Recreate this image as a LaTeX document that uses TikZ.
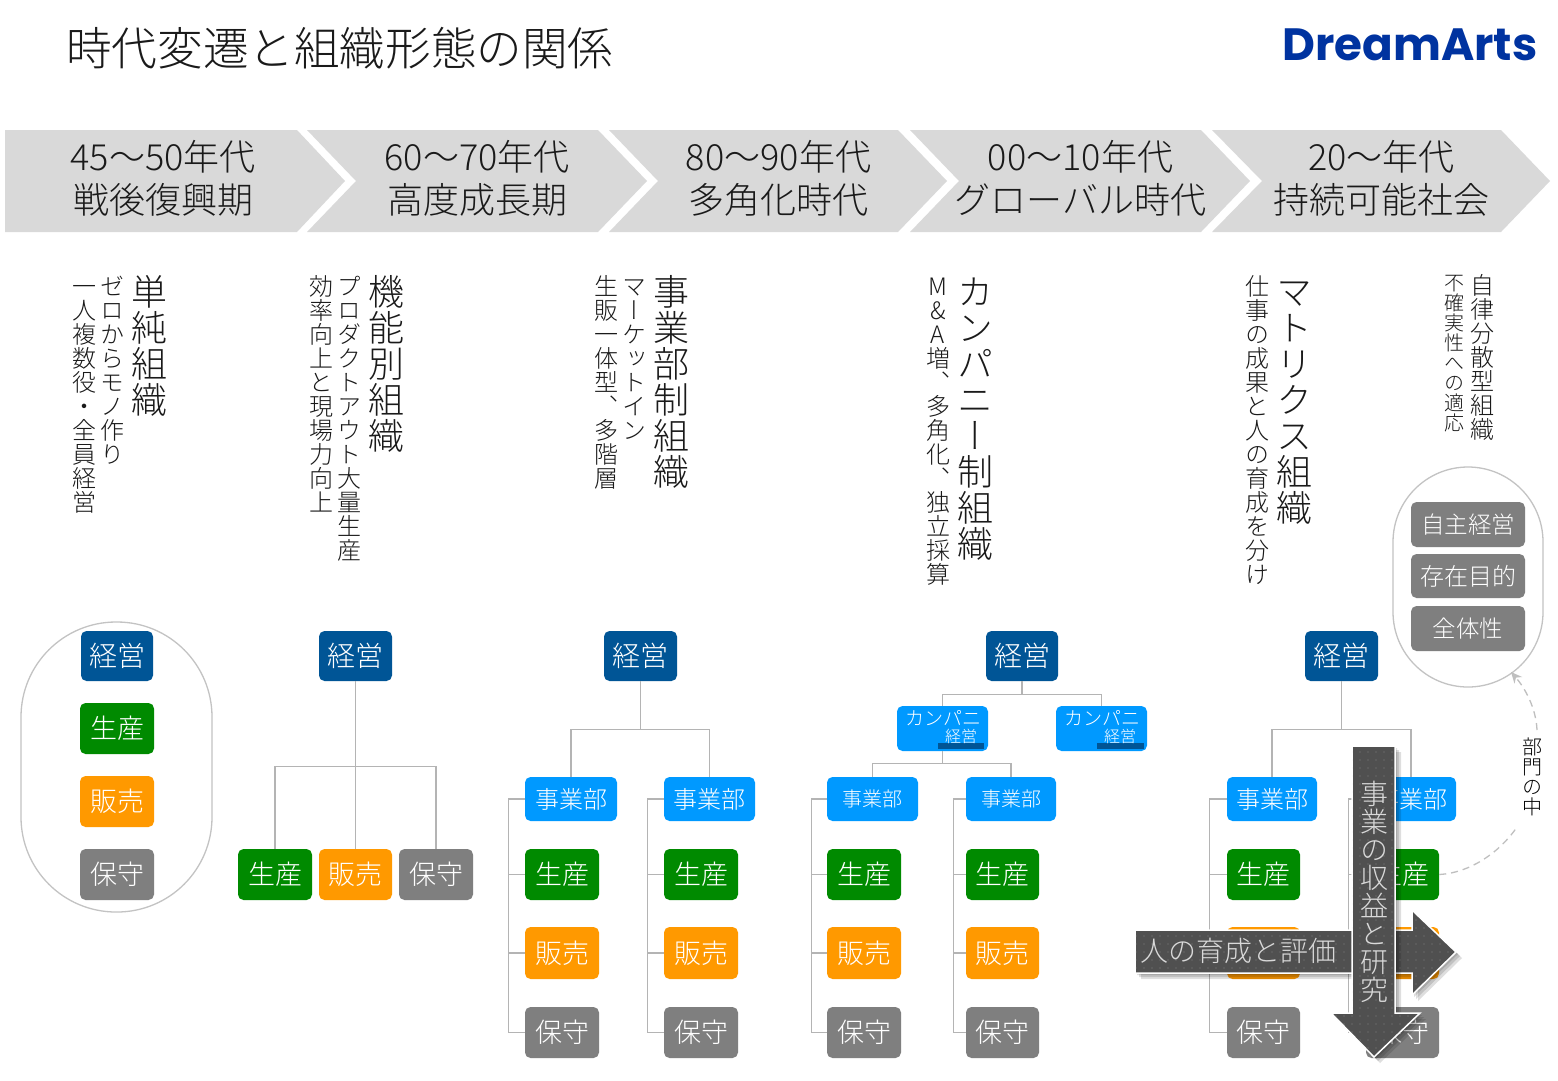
\documentclass[tikz,border=0pt]{standalone}
\usepackage{fontspec}
\usepackage{graphicx}
\usetikzlibrary{patterns.meta,arrows.meta}
\setmainfont{Noto Sans CJK JP Light}
\newfontfamily\vfont[RawFeature={+vert}]{Noto Sans CJK JP Light}
\newfontfamily\logofont{Poppins}
\definecolor{cDark}{HTML}{005596}
\definecolor{cBlue}{HTML}{0099FF}
\definecolor{cGreen}{HTML}{008A00}
\definecolor{cOrange}{HTML}{FF9900}
\definecolor{cGray}{HTML}{7F7F7F}
\definecolor{cBand}{HTML}{D9D9D9}
\definecolor{cLine}{HTML}{B4B4B4}
\definecolor{cArrow}{HTML}{505050}
\definecolor{cInk}{HTML}{1A1A1A}
\definecolor{cLogo}{HTML}{0033A0}
\XeTeXlinebreaklocale "ja"
\newcommand\cjkstrut{\rule[-.12em]{0pt}{1em}}
\makeatletter
\newcommand\vstack[2]{{\fontsize{#1}{#1}\vfont
  \vbox{\baselineskip=#1pt\lineskiplimit=-1000pt\lineskip=0pt
  \@tfor\vch:=#2\do{\hbox to #1pt{\hss\cjkstrut\vch\hss}}}}}
\makeatother
% box given by its corners: name, style, x1, y1, x2, y2, font size, text
\newcommand\bx[8]{\node[unit,#2,minimum width={(#5-#3)*1pt},minimum height={(#6-#4)*1pt},
  font=\fontsize{#7}{#7}\selectfont] (#1) at ({(#3+#5)/2},{(#4+#6)/2}) {\cjkstrut #8};}
% vertical text: name, colour, centre x, top y, size, text
\newcommand\vt[6]{\node[vlabel,text=#2] (#1) at (#3,#4) {\vstack{#5}{#6}};}
\newcommand\hdr[6]{\draw[band] (#1,130) -- (#2,130) -- ({#2+49},181) -- (#2,232) -- (#1,232) #3 -- cycle;
  \node[hdrtext] (#4) at ({(#1+#2)/2+#5},178) {#6};}
\def\hArrowPath{(1135,930) -- (1412,930) -- (1412,910) -- (1456,952) -- (1412,995) -- (1412,973) -- (1135,973) -- cycle}
\def\vArrowPath{(1352,746) -- (1395,746) -- (1395,1013) -- (1420,1013) -- (1374,1057) -- (1331,1013) -- (1352,1013) -- cycle}
\tikzset{
  unit/.style={rounded corners=5.5pt,inner sep=0pt,text=white,align=center},
  dark/.style={fill=cDark},
  blue/.style={fill=cBlue},
  green/.style={fill=cGreen},
  orange/.style={fill=cOrange},
  gray/.style={fill=cGray},
  band/.style={fill=cBand,draw=none},
  hdrtext/.style={align=center,inner sep=0pt,text=cInk,font=\fontsize{36}{43}\selectfont},
  vlabel/.style={anchor=north,inner sep=0pt},
  conn/.style={draw=cLine,line width=1.2pt},
  pill/.style={draw=cLine!80,line width=1.3pt,fill=none},
  bigarrow/.style={fill=cArrow,draw=white,line width=1.5pt,line join=miter,
    postaction={pattern={Dots[distance=8pt,radius=.35pt]},pattern color=cBand}},
  shade/.style={fill=black,opacity=.13,draw=none},
  dashconn/.style={draw=cLine!85,line width=1.3pt,dash pattern=on 7pt off 5pt},
}
\begin{document}
\begin{tikzpicture}[x=1pt,y=-1pt]
\useasboundingbox (0,0) rectangle (1558,1080);
\fill[white] (0,0) rectangle (1558,1080);
% title and logo
\node[anchor=west,inner sep=0pt,text=cInk,font=\fontsize{45.6}{46}\selectfont] (title) at (66,48) {\cjkstrut 時代変遷と組織形態の関係};
\node[anchor=center,inner sep=0pt,text=cLogo] (logo) at (1410,45) {\resizebox{255pt}{!}{\fontsize{50}{50}\logofont\bfseries DreamArts}};
% header band
\draw[band] (5,130) -- (297,130) -- (345,181) -- (297,232) -- (5,232) -- cycle;
\node[hdrtext] (h1) at (163,178) {45〜50年代\\戦後復興期};
\hdr{307}{598}{-- (356,181)}{h2}{24.5}{60〜70年代\\高度成長期}
\hdr{609}{898}{-- (658,181)}{h3}{25}{80〜90年代\\多角化時代}
\hdr{910}{1201}{-- (959,181)}{h4}{25}{00〜10年代\\グローバル時代}
\hdr{1212}{1501}{-- (1262,181)}{h5}{25}{20〜年代\\持続可能社会}
% vertical labels
\vt{t1a}{cInk}{149}{274}{36}{単純組織}
\vt{t1b}{cInk}{112}{274}{24}{ゼロからモノ作り}
\vt{t1c}{cInk}{84}{274}{24}{一人複数役・全員経営}
\vt{t2a}{cInk}{386}{274}{36}{機能別組織}
\vt{t2b}{cInk}{349}{274}{24}{プロダクトアウト大量生産}
\vt{t2c}{cInk}{321}{274}{24}{効率向上と現場力向上}
\vt{t3a}{cInk}{671}{274}{36}{事業部制組織}
\vt{t3b}{cInk}{634}{274}{24}{マーケットイン}
\vt{t3c}{cInk}{606}{274}{24}{生販一体型、多階層}
\vt{t4a}{cInk}{975}{274}{36}{カンパニー制組織}
\vt{t4b}{cInk}{938}{274}{24}{M{\&}A増、多角化、独立採算}
\vt{t5a}{cInk}{1294}{274}{36}{マトリクス組織}
\vt{t5b}{cInk}{1257}{274}{24}{仕事の成果と人の育成を分け}
\vt{t6a}{cInk}{1482}{273}{24}{自律分散型組織}
\vt{t6b}{cInk}{1454}{273}{20}{不確実性への適応}
% column 1
\draw[pill,rounded corners=95pt] (21,622) rectangle (212,912);
\bx{a1}{dark}{81}{631}{153}{681}{28}{経営}
\bx{a2}{green}{80}{703}{154}{754}{27}{生産}
\bx{a3}{orange}{80}{776}{154}{827}{27}{販売}
\bx{a4}{gray}{80}{849}{154}{900}{27}{保守}
% column 2
\bx{b1}{dark}{319}{631}{392}{681}{28}{経営}
\bx{b2}{green}{238}{849}{312}{900}{27}{生産}
\bx{b3}{orange}{319}{849}{392}{900}{27}{販売}
\bx{b4}{gray}{399}{849}{473}{900}{27}{保守}
\draw[conn] (b1.south) -- (b3.north);
\draw[conn] (b1.south) -- ++(0,85) -| (b2.north);
\draw[conn] (b1.south) -- ++(0,85) -| (b4.north);
% column 3
\bx{c0}{dark}{604}{631}{677}{681}{28}{経営}
\bx{c1}{blue}{525}{777}{617}{821}{24}{事業部}
\bx{c2}{green}{525}{849}{599}{900}{27}{生産}
\bx{c3}{orange}{525}{927}{599}{979}{27}{販売}
\bx{c4}{gray}{525}{1007}{599}{1058}{27}{保守}
\bx{d1}{blue}{664}{777}{755}{821}{24}{事業部}
\bx{d2}{green}{664}{849}{738}{900}{27}{生産}
\bx{d3}{orange}{664}{927}{738}{979}{27}{販売}
\bx{d4}{gray}{664}{1007}{738}{1058}{27}{保守}
\draw[conn] (c0.south) -- ++(0,48) -| (c1.north);
\draw[conn] (c0.south) -- ++(0,48) -| (d1.north);
\foreach \n in {c2,c3,c4} \draw[conn] (c1.west) -- ++(-16,0) |- (\n.west);
\foreach \n in {d2,d3,d4} \draw[conn] (d1.west) -- ++(-16,0) |- (\n.west);
% column 4
\bx{e0}{dark}{986}{631}{1058}{681}{28}{経営}
\node[unit,blue,minimum width=91pt,minimum height=45pt] (co1) at (942.5,728.5) {};
\node[unit,blue,minimum width=91pt,minimum height=45pt] (co2) at (1101.5,728.5) {};
\fill[cDark] (938,743) rectangle (984,749);
\fill[cDark] (1097,743) rectangle (1144,749);
\node[inner sep=0pt,text=white,font=\fontsize{19}{19}\selectfont] (co1a) at (943,718) {\cjkstrut カンパニ};
\node[inner sep=0pt,text=white,font=\fontsize{16}{16}\selectfont] (co1b) at (961,736) {\cjkstrut 経営};
\node[inner sep=0pt,text=white,font=\fontsize{19}{19}\selectfont] (co2a) at (1102,718) {\cjkstrut カンパニ};
\node[inner sep=0pt,text=white,font=\fontsize{16}{16}\selectfont] (co2b) at (1120,736) {\cjkstrut 経営};
\bx{e1}{blue}{827}{777}{918}{821}{20}{事業部}
\bx{e2}{green}{827}{849}{901}{900}{27}{生産}
\bx{e3}{orange}{827}{927}{901}{979}{27}{販売}
\bx{e4}{gray}{827}{1007}{901}{1058}{27}{保守}
\bx{f1}{blue}{966}{777}{1056}{821}{20}{事業部}
\bx{f2}{green}{966}{849}{1039}{900}{27}{生産}
\bx{f3}{orange}{966}{927}{1039}{979}{27}{販売}
\bx{f4}{gray}{966}{1007}{1039}{1058}{27}{保守}
\draw[conn] (e0.south) -- ++(0,13) -| (co1.north);
\draw[conn] (e0.south) -- ++(0,13) -| (co2.north);
\draw[conn] (co1.south) -- ++(0,12) -| (e1.north);
\draw[conn] (co1.south) -- ++(0,12) -| (f1.north);
\foreach \n in {e2,e3,e4} \draw[conn] (e1.west) -- ++(-15,0) |- (\n.west);
\foreach \n in {f2,f3,f4} \draw[conn] (f1.west) -- ++(-12,0) |- (\n.west);
% column 5
\bx{g0}{dark}{1305}{631}{1378}{681}{28}{経営}
\bx{g1}{blue}{1227}{777}{1317}{821}{24}{事業部}
\bx{g2}{green}{1227}{849}{1300}{900}{27}{生産}
\bx{g3}{orange}{1227}{927}{1300}{979}{27}{販売}
\bx{g4}{gray}{1227}{1007}{1300}{1058}{27}{保守}
\bx{k1}{blue}{1366}{777}{1456}{821}{24}{事業部}
\bx{k2}{green}{1366}{849}{1439}{900}{27}{生産}
\bx{k3}{orange}{1366}{927}{1439}{979}{27}{販売}
\bx{k4}{gray}{1366}{1007}{1439}{1058}{27}{保守}
\draw[conn] (g0.south) -- ++(0,48) -| (g1.north);
\draw[conn] (g0.south) -- ++(0,48) -| (k1.north);
\foreach \n in {g2,g3,g4} \draw[conn] (g1.west) -- ++(-17,0) |- (\n.west);
\foreach \n in {k2,k3,k4} \draw[conn] (k1.west) -- ++(-17,0) |- (\n.west);
% right pill
\draw[pill,rounded corners=75pt] (1393,467) rectangle (1543,687);
\bx{m1}{gray}{1411}{502}{1525}{547}{23.5}{自主経営}
\bx{m2}{gray}{1411}{554}{1525}{598}{24}{存在目的}
\bx{m3}{gray}{1411}{606}{1525}{651}{23.5}{全体性}
% dashed link with its label
\vt{lbl}{black}{1532}{737}{20}{部門の中}
\coordinate (dA) at (1517,827);
\coordinate (dB) at (1537,730);
\coordinate (dC) at (1511,672);
\draw[dashconn] (k2.east) .. controls (1470,873) and (1500,852) .. (dA);
\draw[dashconn,-{Stealth[length=11pt,width=10pt]}] (dB) .. controls (1536,708) and (1525,688) .. (dC);
% crossing arrows
\foreach \o in {2,4,6} \fill[shade,shift={(\o,\o)}] \hArrowPath;
\path[bigarrow] \hArrowPath;
\node[inner sep=0pt,text=cBand,font=\fontsize{28}{28}\selectfont] (harrowtext) at (1238.5,951) {\cjkstrut 人の育成と評価};
\foreach \o in {2,4,6} \fill[shade,shift={(\o,\o)}] \vArrowPath;
\path[bigarrow] \vArrowPath;
\node[anchor=north,inner sep=0pt,text=cBand] (varrowtext) at (1374,780) {\vstack{28}{事業の収益と研究}};
\end{tikzpicture}
\end{document}
